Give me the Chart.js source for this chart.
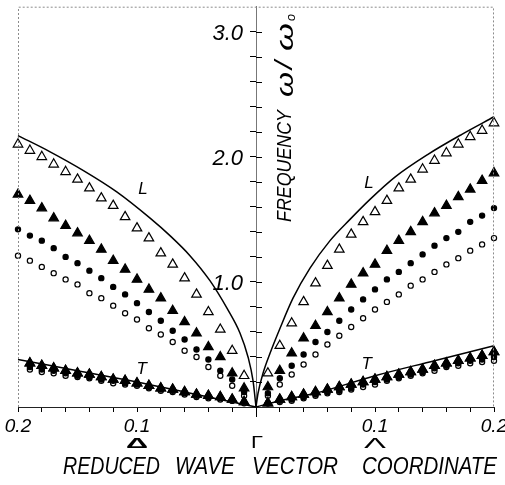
<!DOCTYPE html>
<html>
<head>
<meta charset="utf-8">
<script src="https://cdn.jsdelivr.net/npm/chart.js@4.4.0/dist/chart.umd.min.js"></script>
<style>
  html, body { margin: 0; padding: 0; background: #fff; }
</style>
</head>
<body>
<canvas id="dispersion" width="505" height="485"></canvas>
<script>
/* --------------- Reduced wave vector of the measured points (both directions) --------------- */
const qSteps = [0.01, 0.02, 0.03, 0.04, 0.05, 0.06, 0.07, 0.08, 0.09, 0.10,
                0.11, 0.12, 0.13, 0.14, 0.15, 0.16, 0.17, 0.18, 0.19, 0.20];

/* --------------- Open triangles --------------------- */
const openTriDeltaL  = [0.25, 0.45, 0.62, 0.76, 0.90, 1.03, 1.14, 1.23, 1.35, 1.43, 1.52, 1.61, 1.67, 1.75, 1.82, 1.88, 1.94, 2.00, 2.05, 2.10];
const openTriLambdaL = [0.27, 0.49, 0.67, 0.84, 0.99, 1.13, 1.26, 1.38, 1.48, 1.56, 1.65, 1.75, 1.82, 1.90, 1.97, 2.03, 2.10, 2.16, 2.21, 2.27];
const openTriDeltaT  = [0.04, 0.06, 0.08, 0.09, 0.10, 0.12, 0.14, 0.15, 0.17, 0.19, 0.21, 0.22, 0.24, 0.26, 0.27, 0.29, 0.31, 0.33, 0.35, null];
const openTriLambdaT = [0.03, 0.06, 0.08, 0.10, 0.12, 0.14, 0.16, 0.18, 0.20, 0.22, 0.24, 0.26, 0.28, 0.30, 0.33, 0.35, 0.37, 0.39, 0.41, 0.44];

/* --------------- Filled triangles --------------------- */
const fillTriDeltaL  = [0.15, 0.27, 0.40, 0.48, 0.59, 0.68, 0.77, 0.87, 0.94, 1.02, 1.10, 1.17, 1.26, 1.33, 1.39, 1.45, 1.51, 1.59, 1.65, 1.70];
const fillTriLambdaL = [0.16, 0.29, 0.43, 0.55, 0.65, 0.76, 0.87, 0.98, 1.07, 1.14, 1.25, 1.33, 1.40, 1.48, 1.55, 1.61, 1.68, 1.74, 1.81, 1.87];
const fillTriDeltaT  = [0.04, 0.06, 0.08, 0.09, 0.10, 0.12, 0.14, 0.15, 0.17, 0.19, 0.21, 0.22, 0.24, 0.26, 0.27, 0.29, 0.31, 0.33, 0.35, null];
const fillTriLambdaT = [0.03, 0.06, 0.08, 0.10, 0.12, 0.14, 0.16, 0.18, 0.20, 0.22, 0.24, 0.26, 0.28, 0.30, 0.33, 0.35, 0.37, 0.39, 0.41, 0.44];

/* --------------- Filled circles --------------------- */
const fillDotDeltaL  = [0.12, 0.22, 0.29, 0.38, 0.46, 0.54, 0.61, 0.69, 0.76, 0.83, 0.90, 0.96, 1.03, 1.09, 1.15, 1.20, 1.27, 1.33, 1.37, 1.42];
const fillDotLambdaL = [0.11, 0.23, 0.33, 0.42, 0.52, 0.60, 0.69, 0.78, 0.86, 0.94, 1.02, 1.08, 1.15, 1.22, 1.29, 1.35, 1.40, 1.48, 1.53, 1.59];
const fillDotDeltaT  = [0.04, 0.05, 0.07, 0.08, 0.09, 0.11, 0.13, 0.14, 0.16, 0.18, 0.19, 0.21, 0.22, 0.24, 0.25, 0.27, 0.29, 0.30, 0.32, null];
const fillDotLambdaT = [0.03, 0.05, 0.06, 0.08, 0.10, 0.12, 0.13, 0.15, 0.18, 0.20, 0.22, 0.24, 0.26, 0.28, 0.31, 0.33, 0.35, 0.37, 0.38, 0.40];

/* --------------- Open circles --------------------- */
const openDotDeltaL  = [0.09, 0.17, 0.25, 0.32, 0.40, 0.45, 0.52, 0.58, 0.63, 0.70, 0.75, 0.81, 0.87, 0.91, 0.98, 1.02, 1.07, 1.12, 1.17, 1.21];
const openDotLambdaL = [0.09, 0.18, 0.26, 0.34, 0.42, 0.50, 0.57, 0.64, 0.71, 0.78, 0.84, 0.90, 0.97, 1.02, 1.08, 1.14, 1.19, 1.25, 1.30, 1.35];
const openDotDeltaT  = [0.03, 0.05, 0.06, 0.07, 0.08, 0.10, 0.12, 0.13, 0.15, 0.17, 0.18, 0.19, 0.21, 0.23, 0.24, 0.25, 0.27, 0.28, 0.30, null];
const openDotLambdaT = [0.03, 0.04, 0.05, 0.07, 0.09, 0.11, 0.12, 0.14, 0.16, 0.18, 0.21, 0.23, 0.25, 0.27, 0.29, 0.32, 0.33, 0.35, 0.36, 0.37];

/* --------------- Calculated curves (solid lines) --------------------- */
const curveLDeltaQ  = [0, 0.0025, 0.0067, 0.0134, 0.0244, 0.0387, 0.0555, 0.0723, 0.089, 0.117, 0.145, 0.173, 0.20];
const curveLDeltaW  = [0, 0.21, 0.40, 0.59, 0.79, 1.01, 1.21, 1.37, 1.51, 1.72, 1.89, 2.04, 2.17];
const curveLLambdaQ = [0, 0.0017, 0.0059, 0.0118, 0.0202, 0.0311, 0.0454, 0.0622, 0.079, 0.0958, 0.117, 0.1445, 0.173, 0.20];
const curveLLambdaW = [0, 0.11, 0.27, 0.43, 0.63, 0.87, 1.11, 1.33, 1.50, 1.66, 1.84, 2.02, 2.18, 2.32];
const curveTDeltaQ  = [0, 0.02, 0.05, 0.10, 0.15, 0.20];
const curveTDeltaW  = [0, 0.04, 0.10, 0.20, 0.29, 0.38];
const curveTLambdaQ = [0, 0.02, 0.05, 0.10, 0.15, 0.20];
const curveTLambdaW = [0, 0.05, 0.11, 0.25, 0.37, 0.49];

/* --------------- Axis tick labels --------------------- */
const xTickLabels = { "0.1": "0.1", "0.2": "0.2" };
const yTickLabels = { "1": "1.0", "2": "2.0", "3": "3.0" };

/* --------------- Helpers: Δ direction is drawn to the left of Γ --------------------- */
const toPoints = (deltaVals, lambdaVals) => {
  const pts = [];
  qSteps.forEach((q, i) => {
    if (deltaVals[i] != null) pts.push({ x: -q, y: deltaVals[i] });
    if (lambdaVals[i] != null) pts.push({ x: q, y: lambdaVals[i] });
  });
  return pts;
};
const toCurve = (qs, ws, sign) => {
  const pts = qs.map((q, i) => ({ x: sign * q, y: ws[i] }));
  return sign < 0 ? pts.reverse() : pts;
};

const FONT = '"Liberation Sans", Arial, sans-serif';

const markerSet = (label, pts, style, radius, filled) => ({
  label: label,
  data: pts,
  pointStyle: style,
  pointRadius: radius,
  pointHoverRadius: radius,
  pointBorderWidth: 1.2,
  pointBorderColor: "#000",
  pointBackgroundColor: filled ? "#000" : "#fff",
  showLine: false,
  clip: false,
});
const curveSet = (label, pts) => ({
  label: label,
  data: pts,
  showLine: true,
  pointRadius: 0,
  borderColor: "#000",
  borderWidth: 1.5,
  cubicInterpolationMode: "monotone",
  clip: false,
});

// draws text squeezed/stretched to a given width, starting at x (left aligned)
const fitText = (ctx, text, x, y, width, font) => {
  ctx.save();
  ctx.font = font;
  const w = ctx.measureText(text).width;
  ctx.translate(x, y);
  ctx.scale(width / w, 1);
  ctx.textAlign = "left";
  ctx.fillText(text, 0, 0);
  ctx.restore();
};

/* --------------- Extra drawing: frame, tick labels, inner tick halves, titles --------------------- */
const decorations = {
  id: "decorations",
  afterDraw(chart) {
    const { ctx, chartArea: a, scales: { x, y } } = chart;
    const x0 = x.getPixelForValue(0);
    ctx.save();

    // faint dotted frame
    ctx.strokeStyle = "#8c8c8c";
    ctx.lineWidth = 1;
    ctx.setLineDash([2, 2]);
    ctx.beginPath();
    ctx.moveTo(a.left + 0.5, a.bottom);
    ctx.lineTo(a.left + 0.5, a.top + 0.5);
    ctx.lineTo(a.right - 0.5, a.top + 0.5);
    ctx.lineTo(a.right - 0.5, a.bottom);
    ctx.stroke();
    ctx.setLineDash([]);

    // right half of the frequency ticks + Γ tick below the axis
    ctx.strokeStyle = "#000";
    ctx.beginPath();
    y.ticks.forEach((t) => {
      if (t.value > 3.1 || t.value < 0.1) return;
      const py = Math.round(y.getPixelForValue(t.value)) + 0.5;
      ctx.moveTo(x0, py);
      ctx.lineTo(x0 + 6, py);
    });
    ctx.moveTo(Math.round(x0) + 0.5, a.bottom);
    ctx.lineTo(Math.round(x0) + 0.5, a.bottom + 10);
    ctx.stroke();

    ctx.fillStyle = "#000";
    ctx.textBaseline = "middle";

    // frequency tick labels, left of the central axis
    ctx.textAlign = "right";
    ctx.font = "italic 22px " + FONT;
    y.ticks.forEach((t) => {
      const lbl = yTickLabels[String(Math.round(t.value * 10) / 10)];
      if (lbl) ctx.fillText(lbl, x0 - 13, y.getPixelForValue(t.value) + 2);
    });

    // branch labels
    ctx.textAlign = "center";
    ctx.font = "italic 17px " + FONT;
    [["L", -0.095, 1.74], ["L", 0.095, 1.79], ["T", -0.096, 0.30], ["T", 0.093, 0.34]].forEach(([t, q, w]) => {
      ctx.fillText(t, x.getPixelForValue(q), y.getPixelForValue(w));
    });

    // symmetry point and directions
    const symY = a.bottom + 37;
    fitText(ctx, "Δ", x.getPixelForValue(-0.1) - 11, symY, 22, "bold 15px " + FONT);
    fitText(ctx, "Γ", x0 - 5, symY, 12, "16px " + FONT);
    fitText(ctx, "Λ", x.getPixelForValue(0.1) - 11, symY, 22, "15px " + FONT);

    // x axis title, word by word
    const titleFont = "italic 23px " + FONT;
    [["REDUCED", 63, 97], ["WAVE", 175, 60], ["VECTOR", 252, 86], ["COORDINATE", 362, 135]].forEach(([word, left, w]) => {
      fitText(ctx, word, left, a.bottom + 61, w, titleFont);
    });

    // y axis title, rotated, right of the axis (local x runs upwards)
    ctx.save();
    ctx.translate(x0 + 29, 118);
    ctx.rotate(-Math.PI / 2);
    fitText(ctx, "FREQUENCY", -104, 0, 112, "italic 21px " + FONT);
    fitText(ctx, "ω", 21, 1, 25, "italic 24px " + FONT);
    fitText(ctx, "/", 49, 0, 8, "italic 24px " + FONT);
    fitText(ctx, "ω", 67, 1, 28, "italic 24px " + FONT);
    fitText(ctx, "o", 97, 7, 7, "italic 12px " + FONT);
    ctx.restore();

    ctx.restore();
  },
};

/* --------------- Chart --------------------- */
const dispersionChart = new Chart(document.getElementById("dispersion"), {
  type: "scatter",
  plugins: [decorations],
  data: {
    datasets: [
      markerSet("filled triangles", toPoints(fillTriDeltaL, fillTriLambdaL).concat(toPoints(fillTriDeltaT, fillTriLambdaT)), "triangle", 5.5, true),
      markerSet("open triangles", toPoints(openTriDeltaL, openTriLambdaL).concat(toPoints(openTriDeltaT, openTriLambdaT)), "triangle", 5.5, false),
      markerSet("filled circles", toPoints(fillDotDeltaL, fillDotLambdaL).concat(toPoints(fillDotDeltaT, fillDotLambdaT)), "circle", 2.6, true),
      markerSet("open circles", toPoints(openDotDeltaL, openDotLambdaL).concat(toPoints(openDotDeltaT, openDotLambdaT)), "circle", 2.6, false),
      curveSet("L delta", toCurve(curveLDeltaQ, curveLDeltaW, -1)),
      curveSet("L lambda", toCurve(curveLLambdaQ, curveLLambdaW, 1)),
      curveSet("T delta", toCurve(curveTDeltaQ, curveTDeltaW, -1)),
      curveSet("T lambda", toCurve(curveTLambdaQ, curveTLambdaW, 1)),
    ],
  },
  options: {
    responsive: false,
    animation: false,
    devicePixelRatio: 1,
    layout: { padding: { left: 18, right: 11, top: 4, bottom: 0 } },
    plugins: {
      legend: { display: false },
      tooltip: { enabled: false },
    },
    scales: {
      x: {
        type: "linear",
        position: "bottom",
        min: -0.2,
        max: 0.2,
        afterFit: (scale) => {
          scale.height = 78;
          scale.paddingLeft = 0;
          scale.paddingRight = 0;
        },
        border: { color: "#222", width: 1 },
        grid: { drawOnChartArea: false, tickLength: 5, color: "#000", lineWidth: 1 },
        ticks: {
          stepSize: 0.02,
          autoSkip: false,
          maxRotation: 0,
          padding: 3,
          color: "#000",
          font: { family: FONT, size: 19, style: "italic" },
          callback: (v) => xTickLabels[Math.abs(Math.round(v * 100) / 100).toString()] || "",
        },
      },
      y: {
        type: "linear",
        position: { x: 0 },
        min: 0,
        max: 3.2,
        afterFit: (scale) => {
          scale.width = 0;
          scale.paddingTop = 0;
          scale.paddingBottom = 0;
        },
        border: { color: "#777", width: 1, dash: [3, 2] },
        grid: {
          drawOnChartArea: false,
          tickLength: 6,
          color: (c) => (c.tick && c.tick.value > 3.1 ? "rgba(0,0,0,0)" : "#000"),
        },
        ticks: {
          display: false,
          stepSize: 0.2,
          autoSkip: false,
        },
      },
    },
  },
});
</script>
</body>
</html>
